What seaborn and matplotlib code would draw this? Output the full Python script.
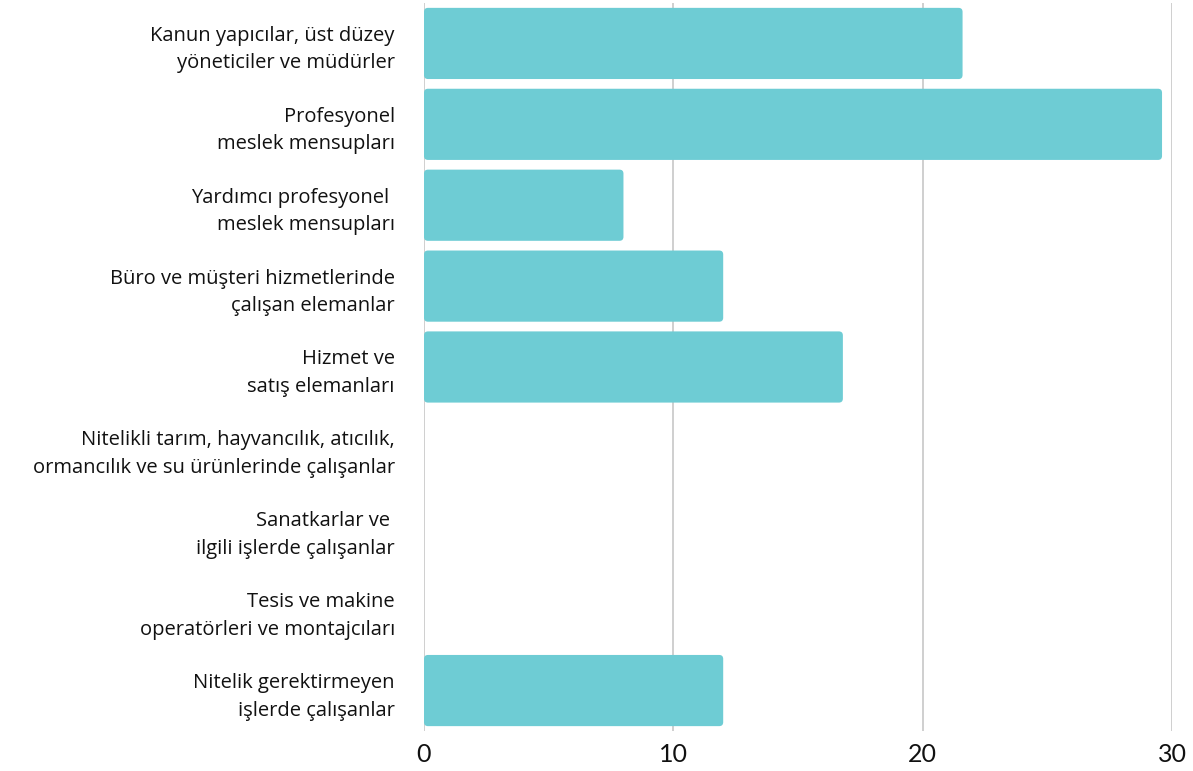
import pandas as pd
import matplotlib.pyplot as plt
import seaborn as sns
from matplotlib.patches import FancyBboxPatch

# Meslek grupları ve değerler
categories = [
    'Kanun yapıcılar, üst düzey\nyöneticiler ve müdürler',
    'Profesyonel\nmeslek mensupları',
    'Yardımcı profesyonel \nmeslek mensupları',
    'Büro ve müşteri hizmetlerinde\nçalışan elemanlar',
    'Hizmet ve\nsatış elemanları',
    'Nitelikli tarım, hayvancılık, atıcılık,\normancılık ve su ürünlerinde çalışanlar',
    'Sanatkarlar ve \nilgili işlerde çalışanlar',
    'Tesis ve makine\noperatörleri ve montajcıları',
    'Nitelik gerektirmeyen\nişlerde çalışanlar',
]
values = [21.6, 29.6, 8.0, 12.0, 16.8, 0, 0, 0, 12.0]
x_ticks = [0, 10, 20, 30]

df = pd.DataFrame({'Meslek': categories, 'Deger': values})

sns.set_style('white')
plt.rcParams['font.family'] = ['Open Sans', 'DejaVu Sans']

fig = plt.figure(figsize=(11.93, 7.71), dpi=100)
ax = fig.add_axes([0.3554, 0.0519, 0.627, 0.9442])

sns.barplot(data=df, x='Deger', y='Meslek', orient='h', color='#6ECCD4',
            width=0.88, saturation=1, ax=ax, zorder=3)

# köşeleri hafif yuvarlat
for p in list(ax.patches):
    w = p.get_width()
    x, y, h = p.get_x(), p.get_y(), p.get_height()
    p.remove()
    if w <= 0:
        continue
    ax.add_patch(FancyBboxPatch((x, y), w, h,
                                boxstyle='round,pad=0,rounding_size=0.16',
                                mutation_aspect=0.31,
                                facecolor='#6ECCD4', edgecolor='none', zorder=3))

ax.set_xlim(0, 30)
ax.set_ylim(8.5, -0.5)
ax.set_xticks(x_ticks)
ax.set_xticklabels([str(t) for t in x_ticks], fontsize=18, color='#111111',
                   family=['Lato', 'DejaVu Sans'])
ax.tick_params(axis='x', length=0, pad=9)
ax.tick_params(axis='y', length=0, pad=21, labelsize=14.5, labelcolor='#111111')
for lbl in ax.get_yticklabels():
    lbl.set_horizontalalignment('right')
    lbl.set_multialignment('right')
    lbl.set_linespacing(1.5)

ax.grid(axis='x', color='#cccccc', linewidth=1.3, zorder=0)
ax.grid(axis='y', visible=False)
for s in ax.spines.values():
    s.set_visible(False)
ax.set_xlabel('')
ax.set_ylabel('')

fig.savefig('out.png', dpi=100)
